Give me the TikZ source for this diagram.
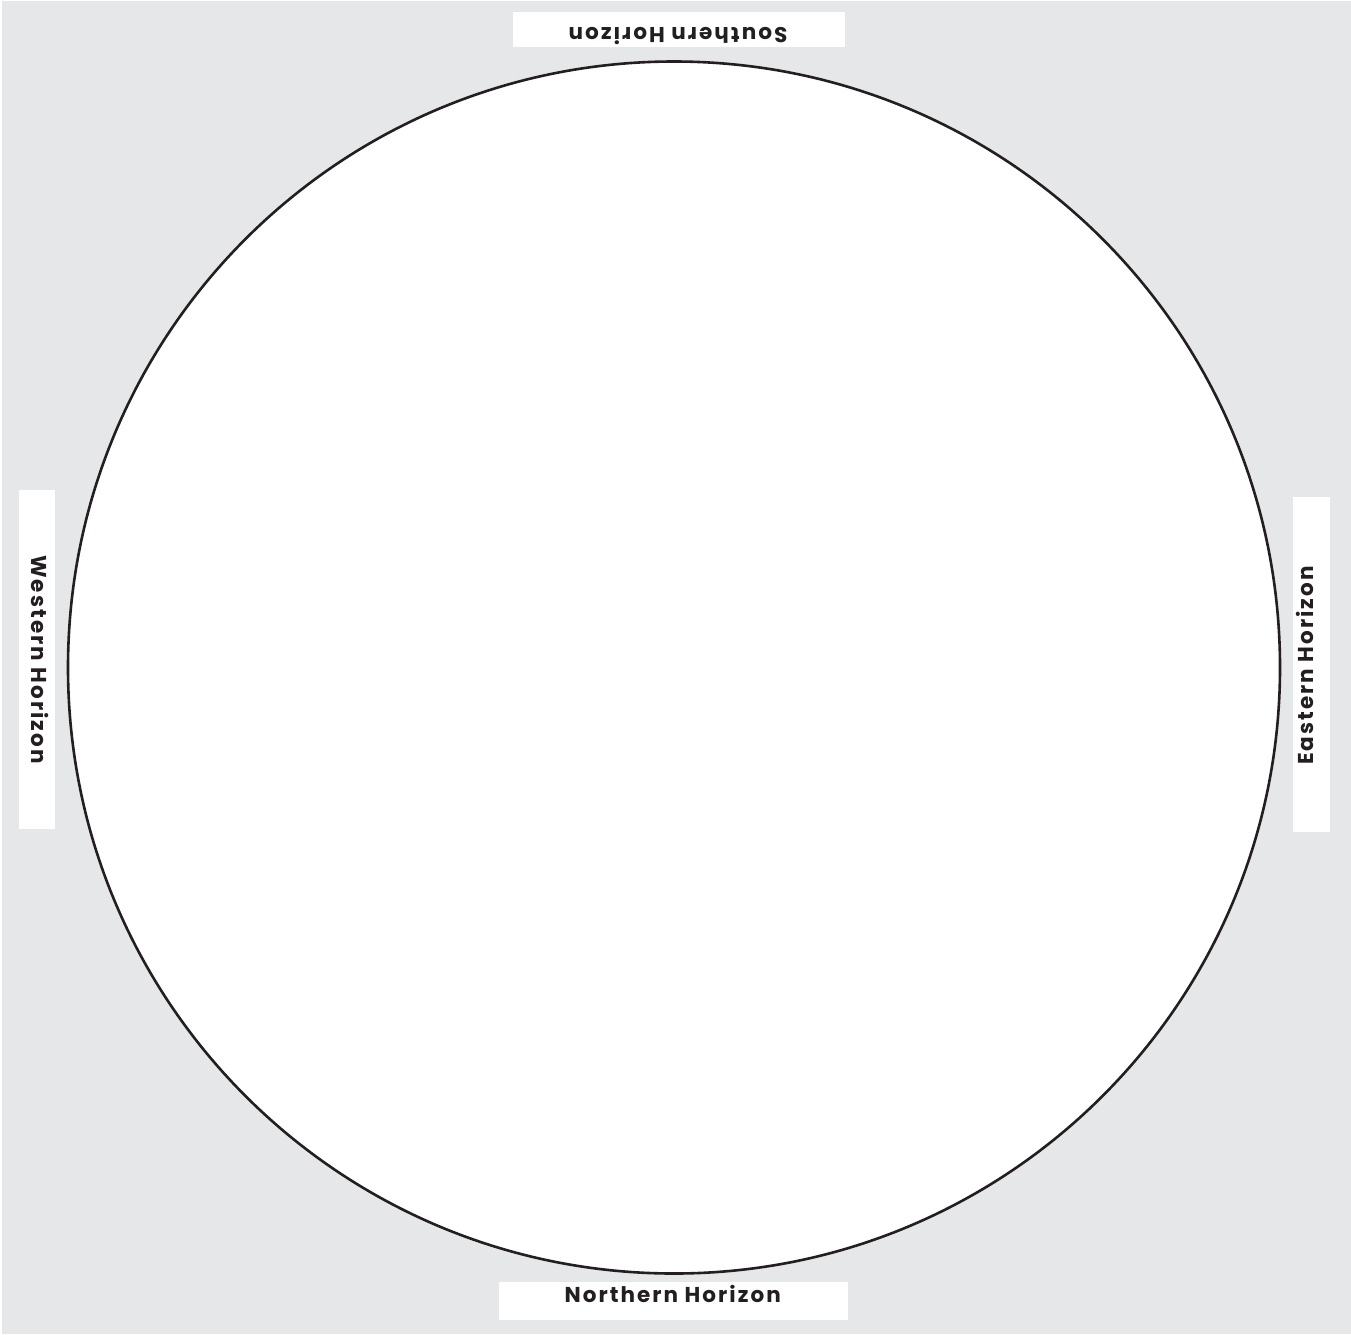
\documentclass[tikz,border=0pt]{standalone}
\usepackage{fontspec}
\setmainfont{Poppins}
\newfontfamily\horizonfont[LetterSpace=9.5]{Poppins}
\definecolor{bg}{HTML}{E6E7E8}
\definecolor{ink}{HTML}{231F20}
\tikzset{
  labelbox/.style={fill=white, draw=none, inner sep=0pt},
  horizon/.style={text=ink, inner sep=0pt, anchor=base, font=\horizonfont\fontsize{21.5}{24}\selectfont\bfseries}
}
\begin{document}
\begin{tikzpicture}[x=1pt,y=-1pt]
\useasboundingbox (0,0) rectangle (1351,1334);
\fill[bg] (2,1) rectangle (1351,1334);
\node[circle, draw=ink, fill=white, line width=2.6pt, minimum size=1212pt, inner sep=0pt] (sky) at (674,667.5) {};
% label boxes
\node[labelbox, minimum width=332.3pt, minimum height=35pt] (sbox) at (678.8,29.2) {};
\node[labelbox, minimum width=348.7pt, minimum height=37.7pt] (nbox) at (673.3,1301.2) {};
\node[labelbox, minimum width=36pt, minimum height=339pt] (wbox) at (37,659.5) {};
\node[labelbox, minimum width=37.3pt, minimum height=335pt] (ebox) at (1311.3,664.2) {};
% labels
\node[horizon, rotate=180] (south) at (678,27.7) {Southern Horizon};
\node[horizon] (north) at (672.7,1302.7) {Northern Horizon};
\node[horizon, rotate=-90] (west) at (31.5,659.5) {Western Horizon};
\node[horizon, rotate=90] (east) at (1313,665.5) {Eastern Horizon};
\end{tikzpicture}
\end{document}
